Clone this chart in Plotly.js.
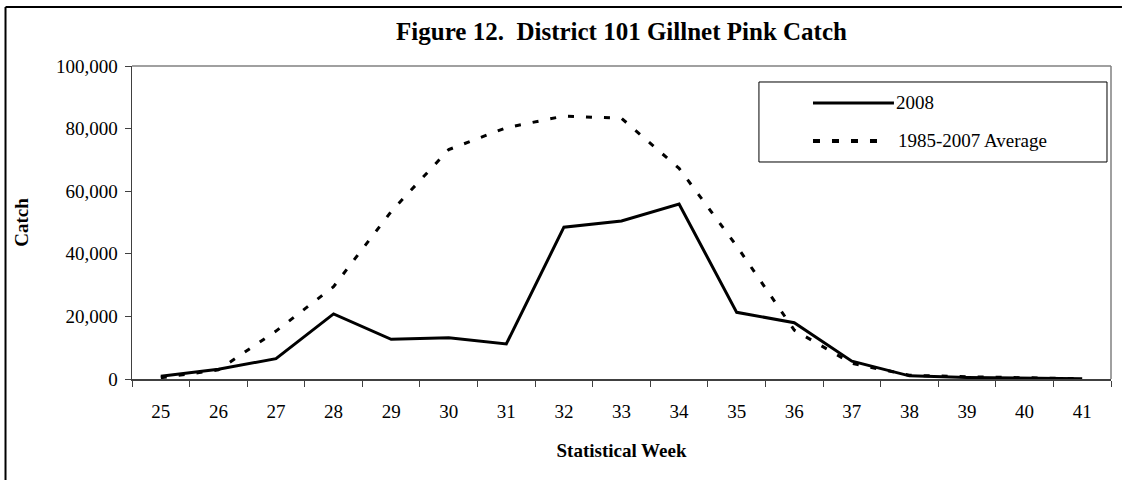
<!DOCTYPE html>
<html>
<head>
<meta charset="utf-8">
<script src="https://cdn.plot.ly/plotly-3.0.1.min.js"></script>
<style>html,body{margin:0;padding:0;background:#fff;overflow:hidden}#chart{width:1122px;height:480px}</style>
</head>
<body>
<div id="chart"></div>
<script>
const weeks = ["25","26","27","28","29","30","31","32","33","34","35","36","37","38","39","40","41"];
const catch2008 = [900, 3100, 6500, 20800, 12700, 13200, 11200, 48500, 50500, 55900, 21300, 18000, 5700, 1000, 500, 200, 100];
const catchAvg = [400, 2900, 15300, 29500, 53500, 73300, 80300, 84000, 83300, 67300, 42500, 15600, 5000, 1200, 700, 300, 100];
const seriesNames = ["2008", "1985-2007 Average"];
const titleText = "Figure 12.  District 101 Gillnet Pink Catch";
const xTitle = "Statistical Week";
const yTitle = "Catch";
const yTicks = [0, 20000, 40000, 60000, 80000, 100000];

const FONT = "Liberation Serif, Times New Roman, serif";

const traces = [
  {x: weeks, y: catch2008, name: seriesNames[0], type: "scatter", mode: "lines",
   line: {color: "#000", width: 3}},
  {x: weeks, y: catchAvg, name: seriesNames[1], type: "scatter", mode: "lines",
   line: {color: "#000", width: 3, dash: "6px,12px"}}
];

const layout = {
  width: 1122, height: 480,
  margin: {l: 132, r: 11, t: 66, b: 101},
  paper_bgcolor: "#fff", plot_bgcolor: "#fff",
  font: {family: FONT, size: 19, color: "#000"},
  showlegend: false,
  title: {text: "<b>" + titleText + "</b>", font: {family: FONT, size: 25, color: "#000"},
          x: 0.5, xref: "paper", y: 0.935, yref: "container", xanchor: "center", yanchor: "middle"},
  xaxis: {type: "category", tickson: "boundaries", ticks: "outside", ticklen: 6, tickwidth: 1,
          tickcolor: "#404040", showline: true, linecolor: "#404040", linewidth: 1.5,
          showgrid: false, zeroline: false, range: [-0.5, 16.5], fixedrange: true,
          tickfont: {family: FONT, size: 19, color: "#000"}, ticklabelstandoff: 15,
          title: {text: "<b>" + xTitle + "</b>", font: {family: FONT, size: 19, color: "#000"}, standoff: 22}},
  yaxis: {range: [0, 100000], tickvals: yTicks, tickformat: ",d", ticks: "outside", ticklen: 6,
          tickwidth: 1, tickcolor: "#404040", showline: true, linecolor: "#404040", linewidth: 1.5,
          showgrid: false, zeroline: false, fixedrange: true, ticklabelstandoff: 3,
          tickfont: {family: FONT, size: 19, color: "#000"},
          title: {text: "<b>" + yTitle + "</b>", font: {family: FONT, size: 19, color: "#000"}, standoff: 22}},
  shapes: [
    {type: "line", xref: "paper", yref: "paper", x0: 0, x1: 1, y0: 1, y1: 1, line: {color: "#808080", width: 1.5}},
    {type: "line", xref: "paper", yref: "paper", x0: 1, x1: 1, y0: 0, y1: 1, line: {color: "#808080", width: 1.5}},
    {type: "line", xref: "paper", yref: "paper", x0: -0.1292, x1: 1.0112, y0: 1.1885, y1: 1.1885,
     line: {color: "#000", width: 2}, layer: "below"},
    {type: "line", xref: "paper", yref: "paper", x0: -0.1292, x1: -0.1292, y0: -0.4, y1: 1.1885,
     line: {color: "#000", width: 2}, layer: "below"},
    {type: "rect", xref: "paper", yref: "paper", x0: 0.6404, x1: 0.9959, y0: 0.6933, y1: 0.9489,
     line: {color: "#000", width: 1}, fillcolor: "#fff"},
    {type: "line", xref: "paper", yref: "paper", x0: 0.6956, x1: 0.7783, y0: 0.8818, y1: 0.8818,
     line: {color: "#000", width: 3}},
    {type: "line", xref: "paper", yref: "paper", x0: 0.6956, x1: 0.7640, y0: 0.7604, y1: 0.7604,
     line: {color: "#000", width: 4, dash: "7px,12px"}}
  ],
  annotations: [
    {xref: "paper", yref: "paper", x: 0.7783, y: 0.8818, xanchor: "left", yanchor: "middle",
     text: seriesNames[0], showarrow: false, font: {family: FONT, size: 19, color: "#000"}},
    {xref: "paper", yref: "paper", x: 0.7800, y: 0.7604, xanchor: "left", yanchor: "middle",
     text: seriesNames[1], showarrow: false, font: {family: FONT, size: 19, color: "#000"}}
  ]
};

Plotly.newPlot("chart", traces, layout, {displayModeBar: false, staticPlot: true});
</script>
</body>
</html>
